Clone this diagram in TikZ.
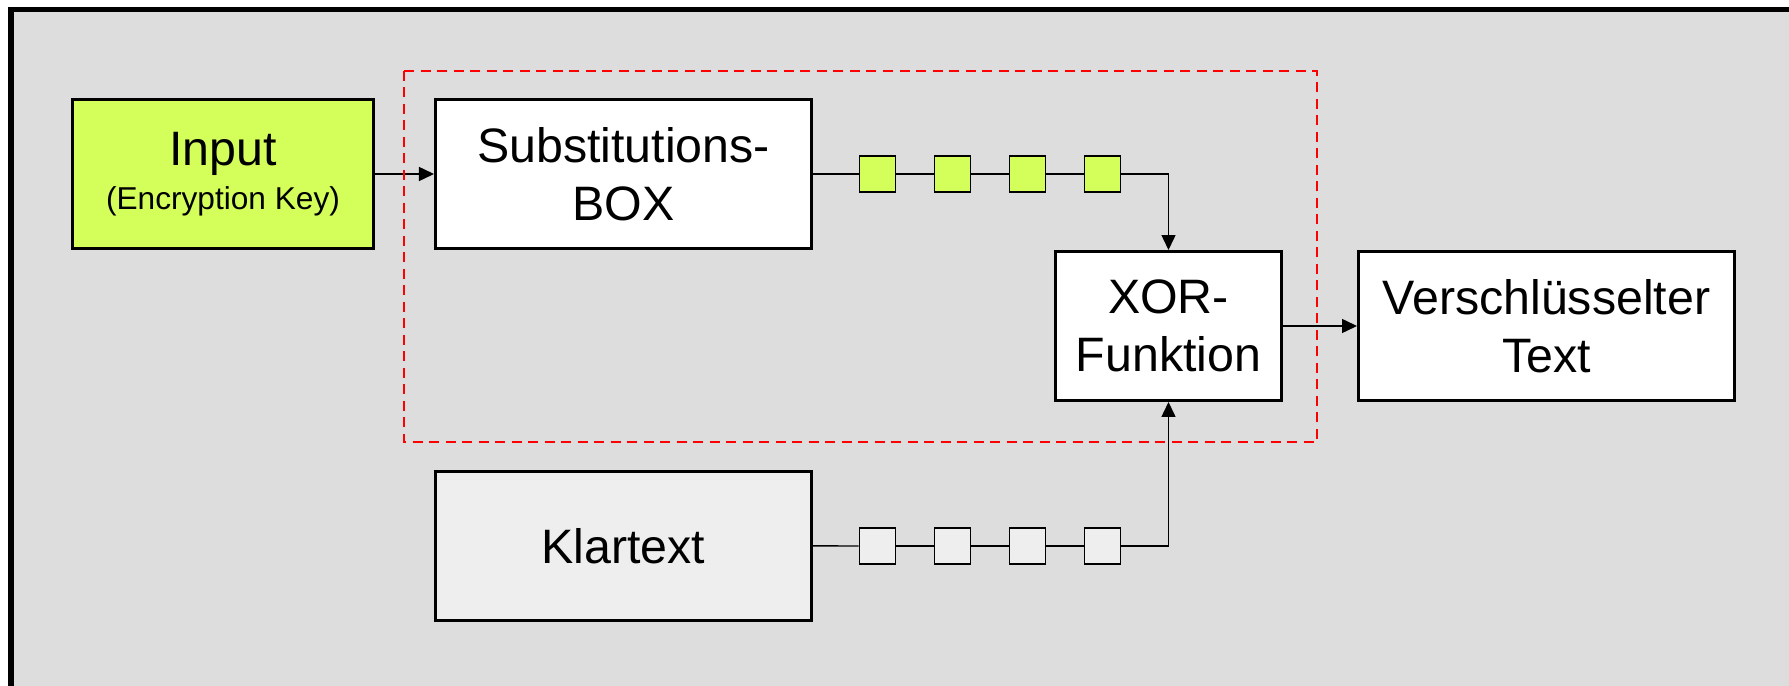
\documentclass[tikz,border=0pt]{standalone}
\usepackage{fontspec}
\setmainfont{Liberation Sans}
\usetikzlibrary{arrows.meta, positioning}
\definecolor{keygreen}{HTML}{D4FF5A}
\definecolor{panelgray}{HTML}{DDDDDD}
\definecolor{plaingray}{HTML}{EEEEEE}

\begin{document}
\begin{tikzpicture}[
        node distance=1.18cm and 1.18cm,
        block/.style={rectangle, draw=black, line width=1.7pt, fill=white, minimum width=7.52cm, minimum height=2.98cm, align=center, inner sep=0pt, font=\fontsize{27.5}{33}\selectfont},
        bit/.style={rectangle, draw=black, line width=1pt, minimum size=0.72cm, inner sep=0pt},
        group/.style={draw=red, line width=0.85pt, dash pattern=on 0.2cm off 0.13cm},
        conn/.style={line width=0.85pt, color=black},
        arrow/.style={-{Triangle[length=0.3cm, width=0.28cm]}, line width=0.85pt, color=black}
    ]

    % Frame
    \useasboundingbox (0,0) rectangle (35.78,-13.72);
    \fill[white] (0,0) rectangle (35.78,-13.72);
    \clip (0,0) rectangle (35.78,-13.72);
    \draw[line width=2.85pt, fill=panelgray] (0.22,-0.2) rectangle (37,-15);

    % Nodes
    \node[block, fill=keygreen, minimum width=6.02cm] (input) at (4.46,-3.48) {Input\\[-8pt]{\fontsize{18}{22}\selectfont(Encryption Key)}};
    \node[block] (sbox) [right=1.18cm of input] {Substitutions-\\BOX};
    \node[block, minimum width=4.52cm] (xor) at (23.37,-6.52) {XOR-\\Funktion};
    \node[block] (cipher) [right=1.48cm of xor] {Verschlüsselter\\Text};
    \node[block, fill=plaingray] (plain) [below=4.4cm of sbox] {Klartext};

    % Bit blocks
    \foreach \i/\x in {1/17.55, 2/19.05, 3/20.55, 4/22.05} {
        \node[bit, fill=keygreen] (k\i) at (\x,-3.48) {};
        \node[bit, fill=plaingray] (p\i) at (\x,-10.92) {};
    }

    % Connections
    \draw[arrow] (input) -- (sbox);
    \draw[conn] (sbox) -- (k1);
    \draw[conn] (plain) -- (p1);
    \foreach \i [count=\j from 2] in {1,2,3} {
        \draw[conn] (k\i) -- (k\j);
        \draw[conn] (p\i) -- (p\j);
    }
    \draw[arrow] (k4) -| (xor);
    \draw[arrow] (p4) -| (xor);
    \draw[arrow] (xor) -- (cipher);

    % S-Box group
    \draw[group] (8.08,-1.42) rectangle (26.34,-8.84);

\end{tikzpicture}
\end{document}
